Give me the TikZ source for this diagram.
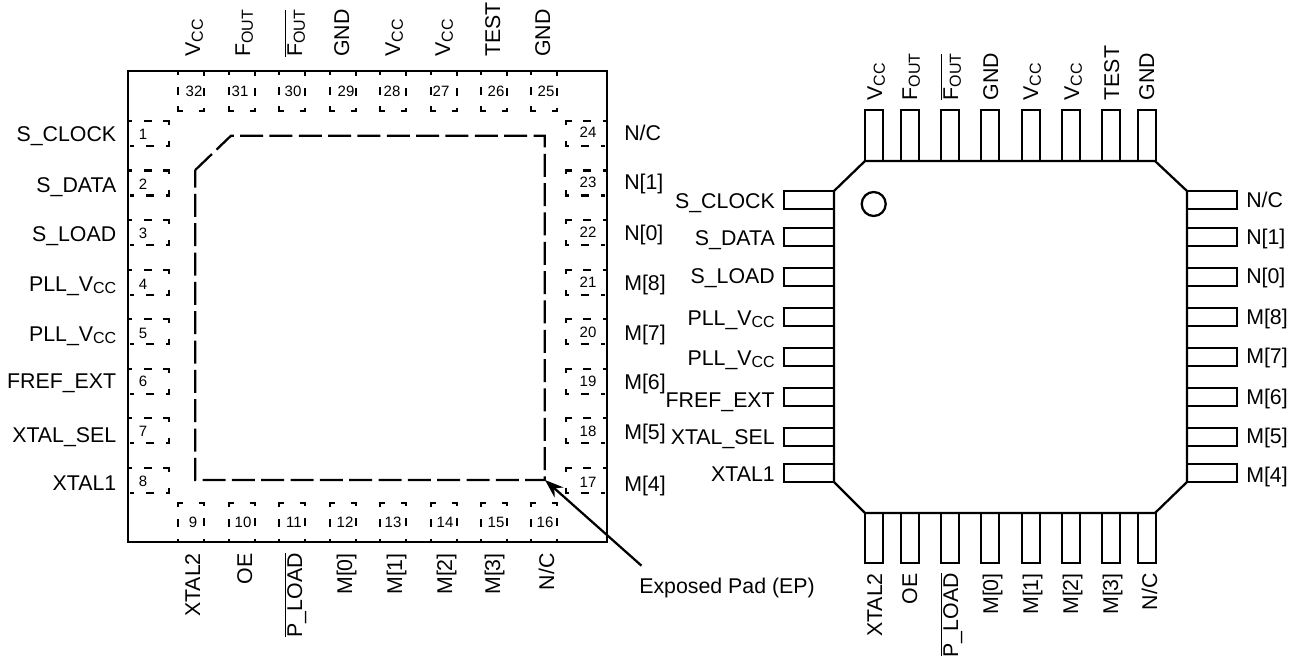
\documentclass[tikz,border=0pt]{standalone}
\usepackage{fontspec}
\setmainfont{Liberation Sans}
\usepackage{tikz}
\usetikzlibrary{arrows.meta}
\newcommand{\subtxt}[1]{\raisebox{-2.2pt}{\fontsize{12}{12}\selectfont #1}}
\newcommand{\vcc}{V\subtxt{CC}}
\newcommand{\fout}{F\subtxt{OUT}}
\newcommand{\barred}[1]{\ensuremath{\overline{\mbox{#1}}}}
\tikzstyle{label} = [inner sep = 0, font = \fontsize{16}{18}\selectfont]
\tikzstyle{pinnum} = [inner sep = 0, font = \fontsize{11.25}{13}\selectfont]
\tikzstyle{edge} = [line width = 1.7pt]
\tikzstyle{paddash} = [line width = 1.7pt, dash pattern = on 3pt off 9pt on 6pt off 8.6pt on 6.8pt off 12pt on 6pt off 9pt on 6pt off 9.4pt on 3pt]
\tikzstyle{pinv} = [rectangle, draw = black, edge, inner sep = 0, minimum width = 13.5pt, minimum height = 38pt]
\tikzstyle{pinh} = [rectangle, draw = black, edge, inner sep = 0, minimum width = 38pt, minimum height = 13.5pt]
\begin{document}
\begin{tikzpicture}[x = 0.75pt, y = -0.75pt]
	\useasboundingbox (0,0) rectangle (1295,656);

	\node (pkgL)[draw = black, edge, inner sep = 0, minimum width = 359.25pt, minimum height = 353.25pt] at (367.5,306.5){};
	\draw [edge, dash pattern = on 17.25pt off 4.75pt] (195.3,170) -- (231,135.7) -- (544.7,135.7) -- (544.7,480) -- (195.3,480) -- cycle;

	\foreach \xpad in {178,229,279,330,380,431,481,531}{
		\draw [paddash] (\xpad,71) -- (\xpad,111) -- (\xpad+26,111) -- (\xpad+26,71);
		\draw [paddash] (\xpad,542.5) -- (\xpad,503) -- (\xpad+26,503) -- (\xpad+26,542.5);
	}
	\foreach \ypad in {121,170.5,220,270,319,369,418,468}{
		\draw [paddash] (128,\ypad) -- (169,\ypad) -- (169,\ypad+25) -- (128,\ypad+25);
		\draw [paddash] (607,\ypad) -- (566,\ypad) -- (566,\ypad+25) -- (607,\ypad+25);
	}

	\foreach \xnum/\xtxt/\pin/\name in {194/200/32/\vcc, 240/250/31/\fout, 293/302/30/\barred{\fout}, 346/349/29/GND, 392/400/28/\vcc, 441/450/27/\vcc, 496/500/26/TEST, 546/550/25/GND}{
		\node (numL\pin)[pinnum] at (\xnum,91){\pin};
		\node (nameL\pin)[label, rotate = 90, anchor = base west] at (\xtxt,57){\name};
	}
	\foreach \xnum/\xtxt/\pin/\name in {193/200/9/XTAL2, 243/252/10/OE, 294/302/11/\barred{P\_LOAD}, 345/352/12/M[0], 393/402/13/M[1], 445/452/14/M[2], 496/500/15/M[3], 545/554/16/{N/C}}{
		\node (numL\pin)[pinnum] at (\xnum,522){\pin};
		\node (nameL\pin)[label, rotate = 90, anchor = base east] at (\xtxt,553){\name};
	}
	\foreach \ynum/\ytxt/\pin/\name in {134/142/1/S\_CLOCK, 184/192.7/2/S\_DATA, 233/241/3/S\_LOAD, 284/291/4/PLL\_\vcc, 333/341/5/PLL\_\vcc, 381/388/6/FREF\_EXT, 431/442/7/XTAL\_SEL, 481/490/8/XTAL1}{
		\node (numL\pin)[pinnum] at (143,\ynum){\pin};
		\node (nameL\pin)[label, anchor = base east] at (116.5,\ytxt){\name};
	}
	\foreach \ynum/\ytxt/\pin/\name in {132/141/24/{N/C}, 182/190/23/N[1], 232/240/22/N[0], 282/290/21/M[8], 332/340/20/M[7], 381/389/19/M[6], 431/439/18/M[5], 482/491/17/M[4]}{
		\node (numL\pin)[pinnum] at (588,\ynum){\pin};
		\node (nameL\pin)[label, anchor = base west] at (624,\ytxt){\name};
	}

	\coordinate (epcorner) at (545,480);
	\coordinate (epstart) at (641.5,565.7);
	\node (eplabel)[label, anchor = base west] at (639,593){Exposed Pad (EP)};
	\draw [-{Stealth[length = 14pt, width = 10pt]}, edge] (epstart) -- (epcorner);

	\foreach \xpin/\xnum/\xtxt/\pin/\name in {874/875/882/32/\vcc, 910/910/917/31/\fout, 950/951/958/30/\barred{\fout}, 990/991/998/29/GND, 1031/1031/1038/28/\vcc, 1071/1069/1079/27/\vcc, 1111/1109/1119/26/TEST, 1147/1147/1154/25/GND}{
		\node (pinR\pin)[pinv] at (\xpin,135.5){};
		\node (numR\pin)[pinnum] at (\xnum,175){\pin};
		\node (nameR\pin)[label, rotate = 90, anchor = base west] at (\xtxt,100.7){\name};
	}
	\foreach \xpin/\xnum/\xtxt/\pin/\name in {874/873/882/9/XTAL2, 910/909/917/10/OE, 950/949/958/11/\barred{P\_LOAD}, 990/990/998/12/M[0], 1031/1030/1038/13/M[1], 1071/1070/1078/14/M[2], 1111/1111/1118/15/M[3], 1147/1150/1157/16/{N/C}}{
		\node (pinR\pin)[pinv] at (\xpin,538){};
		\node (numR\pin)[pinnum] at (\xnum,502){\pin};
		\node (nameR\pin)[label, rotate = 90, anchor = base east] at (\xtxt,573){\name};
	}
	\foreach \ypin/\ynum/\ytxt/\pin/\name in {200/204/208/1/S\_CLOCK, 237/242/245/2/S\_DATA, 277/281/283/3/S\_LOAD, 317/320/325/4/PLL\_\vcc, 357/360/365/5/PLL\_\vcc, 397/397/407/6/FREF\_EXT, 437/437/444/7/XTAL\_SEL, 473/475/481/8/XTAL1}{
		\node (pinR\pin)[pinh] at (809,\ypin){};
		\node (numR\pin)[pinnum] at (848,\ynum){\pin};
		\node (nameR\pin)[label, anchor = base east] at (775,\ytxt){\name};
	}
	\foreach \ypin/\ynum/\ytxt/\pin/\name in {200/201/207/24/{N/C}, 237/239/244/23/N[1], 277/277/283/22/N[0], 317/316/324/21/M[8], 357/355/363/20/M[7], 397/395/404/19/M[6], 437/434/443/18/M[5], 473/472/482/17/M[4]}{
		\node (pinR\pin)[pinh] at (1212,\ypin){};
		\node (numR\pin)[pinnum] at (1173,\ynum){\pin};
		\node (nameR\pin)[label, anchor = base west] at (1246,\ytxt){\name};
	}

	\draw [edge, fill = white] (865,161) -- (1155,161) -- (1187,191) -- (1187,482) -- (1155,513) -- (865,513) -- (834,482) -- (834,191) -- cycle;
	\node (dot)[circle, draw = black, edge, inner sep = 0, minimum size = 18pt] at (873.7,204){};
\end{tikzpicture}
\end{document}
